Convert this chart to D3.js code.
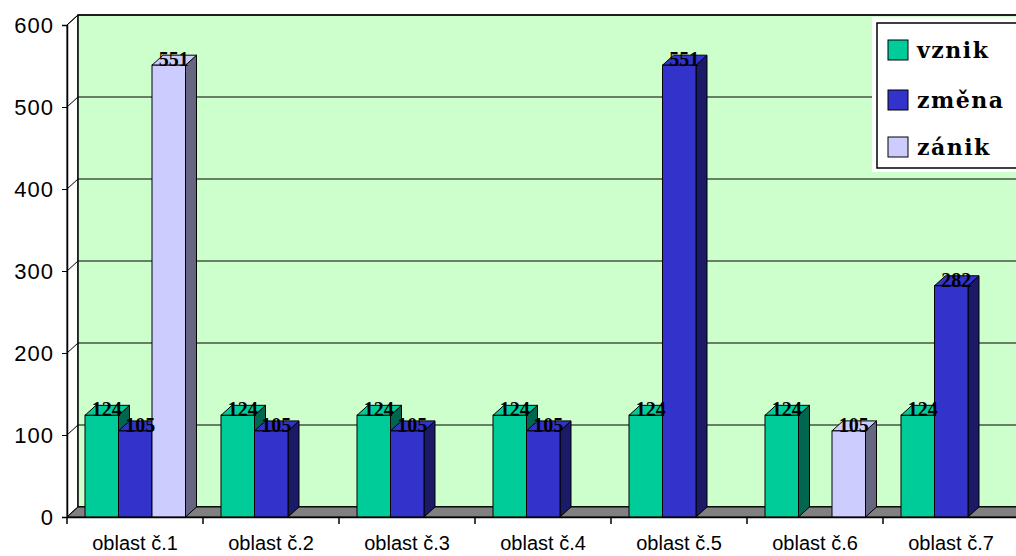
<!DOCTYPE html>
<html>
<head>
<meta charset="utf-8">
<script src="https://cdn.jsdelivr.net/npm/d3@7"></script>
<style>
  body { margin: 0; background: #fff; }
</style>
</head>
<body>
<svg width="1016" height="556"></svg>
<script>
const categories = ["oblast č.1", "oblast č.2", "oblast č.3", "oblast č.4", "oblast č.5", "oblast č.6", "oblast č.7"];
const seriesNames = ["vznik", "změna", "zánik"];
const vznik = [124, 124, 124, 124, 124, 124, 124];
const zmena = [105, 105, 105, 105, 551, null, 282];
const zanik = [551, null, null, null, null, 105, null];
const yTicks = [0, 100, 200, 300, 400, 500, 600];

const colors = ["#00cc99", "#3333cc", "#ccccff"];
const sideColors = ["#006650", "#1a1a66", "#666680"];
const values = [vznik, zmena, zanik];

const svg = d3.select("svg");
const dx = 11, dy = -10;

const x = d3.scaleBand().domain(categories).range([67, 1019]);
const xs = d3.scaleBand().domain(seriesNames).range([18, 118.5]);
const y = d3.scaleLinear().domain([0, 600]).range([517, 25]);

// left side wall (white) and back wall
svg.append("path")
  .attr("d", `M67,${y(600)} L${67 + dx},${y(600) + dy} L${67 + dx},${y(0) + dy} L67,${y(0)} Z`)
  .attr("fill", "#fff").attr("stroke", "#000");
svg.append("rect")
  .attr("x", 67 + dx).attr("y", y(600) + dy)
  .attr("width", 1100).attr("height", y(0) - y(600))
  .attr("fill", "#ccffcc").attr("stroke", "#000").attr("stroke-width", 1.5);

// gridlines on the back wall + diagonal ticks on side wall
yTicks.forEach(t => {
  svg.append("line")
    .attr("x1", 67 + dx).attr("x2", 1016)
    .attr("y1", y(t) + dy).attr("y2", y(t) + dy)
    .attr("stroke", "#000").attr("stroke-width", 1.2);
  svg.append("line")
    .attr("x1", 67).attr("x2", 67 + dx)
    .attr("y1", y(t)).attr("y2", y(t) + dy)
    .attr("stroke", "#000");
});

// floor
svg.append("path")
  .attr("d", `M67,${y(0)} L${67 + dx},${y(0) + dy} L1030,${y(0) + dy} L1019,${y(0)} Z`)
  .attr("fill", "#808080").attr("stroke", "#000");

// bars
const g = svg.append("g");
categories.forEach((c, i) => {
  seriesNames.forEach((s, j) => {
    const v = values[j][i];
    if (v == null) return;
    const x0 = x(c) + xs(s), w = xs.bandwidth();
    const yt = y(v), yb = y(0);
    g.append("path")
      .attr("d", `M${x0 + w},${yt} L${x0 + w + dx},${yt + dy} L${x0 + w + dx},${yb + dy} L${x0 + w},${yb} Z`)
      .attr("fill", sideColors[j]).attr("stroke", "#000");
    g.append("path")
      .attr("d", `M${x0},${yt} L${x0 + dx},${yt + dy} L${x0 + w + dx},${yt + dy} L${x0 + w},${yt} Z`)
      .attr("fill", colors[j]).attr("stroke", "#000");
    g.append("rect")
      .attr("x", x0).attr("y", yt).attr("width", w).attr("height", yb - yt)
      .attr("fill", colors[j]).attr("stroke", "#000");
  });
});

// value labels
categories.forEach((c, i) => {
  seriesNames.forEach((s, j) => {
    const v = values[j][i];
    if (v == null) return;
    svg.append("text")
      .attr("x", x(c) + xs(s) + xs.bandwidth() / 2 + 5)
      .attr("y", y(v) + 1)
      .attr("text-anchor", "middle")
      .attr("font-family", "Liberation Serif, serif")
      .attr("font-weight", "bold")
      .attr("font-size", 20)
      .attr("fill", "#000")
      .text(v);
  });
});

// y axis
const yAxis = d3.axisLeft(y).tickValues(yTicks).tickSize(5).tickPadding(8);
svg.append("g").attr("transform", "translate(67,0)").call(yAxis)
  .call(a => a.select(".domain").attr("stroke", "#000").attr("stroke-width", 1.5))
  .call(a => a.selectAll("text").attr("font-family", "Liberation Sans, Arial, sans-serif")
    .attr("font-size", 22).attr("letter-spacing", 1).attr("fill", "#000"));

// x axis
const xAxis = d3.axisBottom(x).tickSize(0).tickPadding(19);
const xa = svg.append("g").attr("transform", `translate(0,${y(0)})`).call(xAxis);
xa.select(".domain").attr("stroke", "#000").attr("stroke-width", 1.5);
xa.selectAll("text").attr("font-family", "Liberation Sans, Arial, sans-serif").attr("font-size", 20).attr("fill", "#000");
categories.forEach(c => {
  xa.append("line").attr("x1", x(c)).attr("x2", x(c)).attr("y1", 0).attr("y2", 7).attr("stroke", "#000").attr("stroke-width", 1.5);
});

// legend
svg.append("rect").attr("x", 872).attr("y", 17).attr("width", 160).attr("height", 155).attr("fill", "#fff");
svg.append("rect").attr("x", 877).attr("y", 23).attr("width", 160).attr("height", 145)
  .attr("fill", "#fff").attr("stroke", "#000").attr("stroke-width", 1.5);
const legY = [50, 100, 147];
seriesNames.forEach((s, j) => {
  svg.append("rect").attr("x", 888).attr("y", legY[j] - 10).attr("width", 20).attr("height", 20)
    .attr("fill", colors[j]).attr("stroke", "#000");
  svg.append("text").attr("x", 917).attr("y", legY[j] + 8)
    .attr("font-family", "DejaVu Serif, serif").attr("font-weight", "bold").attr("font-size", 22)
    .attr("letter-spacing", 1.5)
    .attr("fill", "#000").text(s);
});
</script>
</body>
</html>
